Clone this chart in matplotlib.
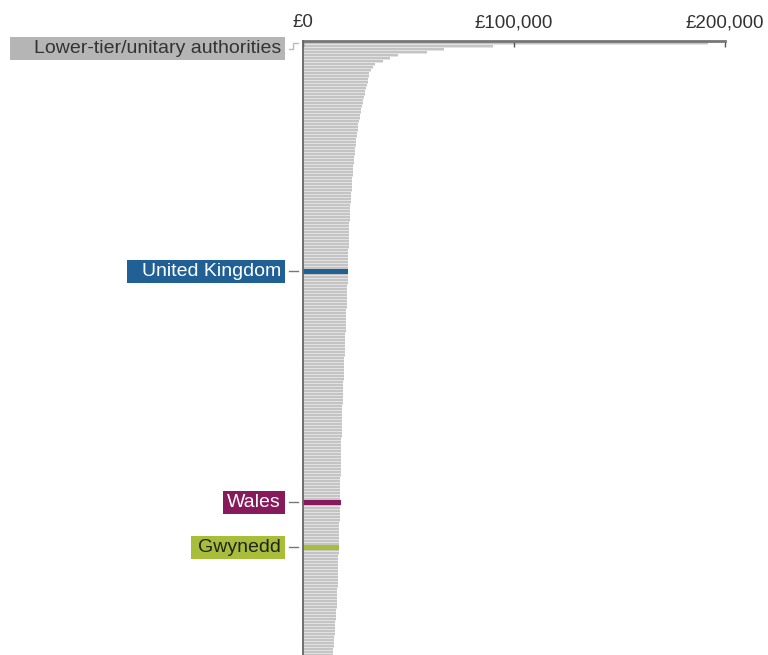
import numpy as np
import matplotlib
matplotlib.use('Agg')
import matplotlib.pyplot as plt
from matplotlib.patches import Rectangle
from matplotlib.lines import Line2D
from matplotlib import transforms

# values per head (£), sorted high to low, one per lower-tier/unitary authority row
values = [
    192000, 90000, 67000, 59000, 45000, 41000, 38000, 34000, 33000, 32000,
    31500, 31200, 31000, 30600, 30300, 30000, 29600, 29300, 29000, 28600,
    28200, 27900, 27600, 27300, 27000, 26800, 26500, 26300, 26100, 25900,
    25700, 25500, 25300, 25100, 24900, 24800, 24600, 24500, 24300, 24200,
    24000, 23900, 23800, 23700, 23500, 23400, 23300, 23200, 23100, 23000,
    22900, 22800, 22700, 22600, 22500, 22400, 22300, 22300, 22200, 22100,
    22000, 22000, 21900, 21800, 21800, 21700, 21700, 21600, 21600, 21500,
    21500, 21500, 21400, 21400, 21300, 21300, 21300, 21200, 21200, 21100,
    21100, 21000, 21000, 20900, 20900, 20800, 20800, 20700, 20700, 20600,
    20600, 20500, 20500, 20400, 20300, 20300, 20200, 20100, 20100, 20000,
    19900, 19900, 19800, 19700, 19700, 19600, 19500, 19500, 19400, 19400,
    19300, 19300, 19200, 19100, 19100, 19000, 19000, 18900, 18900, 18800,
    18800, 18700, 18700, 18600, 18600, 18500, 18500, 18400, 18400, 18300,
    18300, 18300, 18200, 18200, 18100, 18100, 18100, 18000, 18000, 17900,
    17900, 17900, 17800, 17800, 17800, 17700, 17700, 17700, 17600, 17600,
    17600, 17500, 17500, 17500, 17400, 17400, 17400, 17300, 17300, 17300,
    17200, 17200, 17200, 17100, 17100, 17100, 17000, 17000, 17000, 16900,
    16900, 16800, 16800, 16800, 16700, 16700, 16600, 16600, 16500, 16500,
    16400, 16400, 16300, 16300, 16200, 16100, 16100, 16000, 15900, 15800,
    15700, 15600, 15500, 15400, 15300, 15200, 15100, 15000, 14900, 14800,
    14700, 14600, 14400, 14200, 14000,
]

highlight_names = ['United Kingdom', 'Wales', 'Gwynedd']
highlight_rank = [76, 153, 168]
highlight_values = [21300, 18000, 17100]
highlight_colors = ['#206095', '#871a5b', '#a8bd3a']
highlight_text = ['white', 'white', '#222222']

tick_values = [0, 100000, 200000]
tick_labels = ['£0', '£100,000', '£200,000']

header_label = 'Lower-tier/unitary authorities'

W, H = 768, 655
plt.rcParams['font.family'] = ['Liberation Sans', 'DejaVu Sans']
fig = plt.figure(figsize=(W / 100, H / 100), dpi=100)
ax = fig.add_axes([303 / W, 0, 422 / W, 1 - 41 / H])

n = len(values)
ypos = np.arange(n) + 0.5
# light under-layer so the gaps between bars read as pale lines, not white
ax.barh(ypos, values, height=1.0, color='#e2e2e2', linewidth=0)
ax.barh(ypos, values, height=0.68, color='#c4c4c4', linewidth=0)

for rank, val, col in zip(highlight_rank, highlight_values, highlight_colors):
    ax.barh(rank + 0.5, val, height=1.8, color=col, linewidth=0, zorder=3)

ax.set_xlim(0, 200000)
ax.set_ylim((H - 41) / 3 - 0.3, -0.3)

for s in ['right', 'bottom']:
    ax.spines[s].set_visible(False)
ax.spines['left'].set_color('#666666')
ax.spines['top'].set_color('#777777')
ax.spines['left'].set_linewidth(1.3)
ax.spines['top'].set_linewidth(2.0)
ax.spines['left'].set_zorder(5)

ax.xaxis.tick_top()
ax.set_xticks(tick_values)
ax.set_xticklabels(tick_labels, fontsize=13.5, color='#333333')
ax.tick_params(axis='x', direction='in', length=4, width=1, color='#555555', pad=7)
ax.set_yticks([])

# labels on the left with coloured boxes (box left edge in pixels)
trans = transforms.blended_transform_factory(fig.transFigure, ax.transData)
box_left = [10, 127, 223, 191]
labels = [(header_label, 2.2, '#b5b5b5', '#333333')]
for name, rank, col, tc in zip(highlight_names, highlight_rank, highlight_colors, highlight_text):
    labels.append((name, rank + 0.5, col, tc))

for (name, yv, col, tc), x0 in zip(labels, box_left):
    fig.text(281 / W, yv, name, transform=trans, ha='right', va='center',
             fontsize=14, color=tc, zorder=4)
    ycen = ax.transData.transform((0, yv))[1]
    rect = Rectangle((x0 / W, (ycen - 11.5) / H), (285 - x0) / W, 23 / H,
                     transform=fig.transFigure, facecolor=col, edgecolor='none', zorder=2)
    fig.add_artist(rect)
    if name != header_label:
        fig.add_artist(Line2D([289 / W, 298 / W], [ycen / H, ycen / H],
                              transform=fig.transFigure, color='#777777', lw=1))

# step connector from header label to first row
y_lab = ax.transData.transform((0, 2.2))[1]
y_row = ax.transData.transform((0, 0.5))[1]
fig.add_artist(Line2D([289 / W, 293 / W, 293 / W, 298 / W],
                      [y_lab / H, y_lab / H, y_row / H, y_row / H],
                      transform=fig.transFigure, color='#bbbbbb', lw=1))

fig.savefig('out.png', dpi=100)
